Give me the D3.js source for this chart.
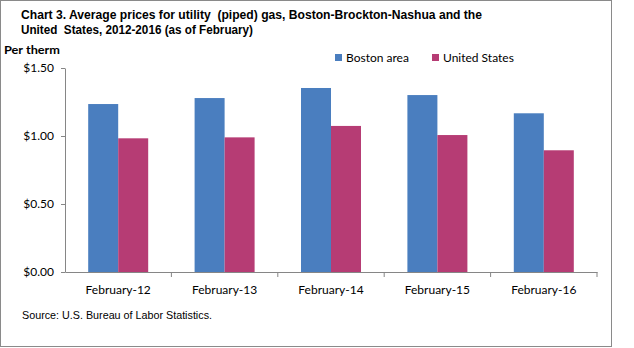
<!DOCTYPE html>
<html><head><meta charset="utf-8">
<script src="https://cdn.jsdelivr.net/npm/d3@7/dist/d3.min.js"></script>
<style>body{margin:0;background:#fff}svg{display:block}text{white-space:pre}</style>
</head><body>
<svg id="c" width="634" height="348"></svg>
<script>
const categories = ["February-12","February-13","February-14","February-15","February-16"];
const seriesNames = ["Boston area","United States"];
const bostonValues = [1.235, 1.279, 1.353, 1.301, 1.167];
const usValues = [0.983, 0.990, 1.074, 1.007, 0.895];
const yTicks = [0, 0.5, 1.0, 1.5];
const colors = ["#4a7ebf", "#b63c74"];

const svg = d3.select("#c");
svg.append("rect").attr("x",0.5).attr("y",0.5).attr("width",611).attr("height",346)
  .attr("fill","#fff").attr("stroke","#8a8a8a").attr("stroke-width",1);

const m = {left:65, right:597, top:68, bottom:272};
const x = d3.scaleBand().domain(categories).range([m.left, m.right]).paddingInner(0).paddingOuter(0);
const y = d3.scaleLinear().domain([0,1.5]).range([m.bottom, m.top]);
const xs = d3.scaleBand().domain(seriesNames).range([0, 60]);
const barOffset = (x.bandwidth()-60)/2;

const data = categories.map((c,i)=>({c, vals:[bostonValues[i], usValues[i]]}));
const g = svg.append("g");
data.forEach(d=>{
  d.vals.forEach((v,j)=>{
    g.append("rect")
      .attr("x", x(d.c)+barOffset+xs(seriesNames[j]))
      .attr("y", y(v))
      .attr("width", xs.bandwidth())
      .attr("height", y(0)-y(v))
      .attr("fill", colors[j]);
  });
});

const font = "Lato, 'Open Sans', sans-serif";
// y axis
const yAxis = svg.append("g").attr("transform",`translate(${m.left},0)`)
  .call(d3.axisLeft(y).tickValues(yTicks).tickFormat(d=>"$"+d.toFixed(2)).tickSize(4).tickSizeOuter(0));
yAxis.select(".domain").attr("stroke","#868686");
yAxis.selectAll(".tick line").attr("stroke","#868686");
yAxis.selectAll("text").attr("font-family",font).attr("font-size",12).attr("fill","#000").attr("x",-11);

// x axis
const xAxis = svg.append("g").attr("transform",`translate(0,${m.bottom})`)
  .call(d3.axisBottom(x).tickSize(0).tickSizeOuter(0));
xAxis.select(".domain").attr("stroke","#868686");
xAxis.selectAll("text").attr("font-family",font).attr("font-size",12).attr("fill","#000").attr("dy","0").attr("y",22);
// category separator ticks
const sepPositions = categories.map(c=>x(c)).slice(1).concat([m.right]);
xAxis.selectAll(".sep").data(sepPositions).enter().append("line")
  .attr("x1",d=>d).attr("x2",d=>d).attr("y1",0).attr("y2",5).attr("stroke","#868686");

// title
const title = svg.append("g").attr("font-family","'Liberation Sans', Arial, sans-serif").attr("font-weight","bold").attr("font-size",12);
title.append("text").attr("x",21).attr("y",19).attr("textLength",461).attr("lengthAdjust","spacingAndGlyphs")
  .text("Chart 3. Average prices for utility  (piped) gas, Boston-Brockton-Nashua and the");
title.append("text").attr("x",21).attr("y",34).attr("textLength",232).attr("lengthAdjust","spacingAndGlyphs")
  .text("United  States, 2012-2016 (as of February)");

svg.append("text").attr("x",4).attr("y",54).attr("font-family",font).attr("font-weight","bold")
  .attr("font-size",12).attr("textLength",56).attr("lengthAdjust","spacingAndGlyphs").text("Per therm");

// legend
const legX = [335, 432];
seriesNames.forEach((s,i)=>{
  svg.append("rect").attr("x",legX[i]).attr("y",54).attr("width",7).attr("height",7).attr("fill",colors[i]);
  svg.append("text").attr("x",legX[i]+11).attr("y",61.5).attr("font-family",font).attr("font-size",12)
    .text(s);
});

svg.append("text").attr("x",22).attr("y",319).attr("font-family","'Liberation Sans', Arial, sans-serif")
  .attr("font-size",11).attr("textLength",190).attr("lengthAdjust","spacingAndGlyphs")
  .text("Source: U.S. Bureau of Labor Statistics.");
</script>
</body></html>
